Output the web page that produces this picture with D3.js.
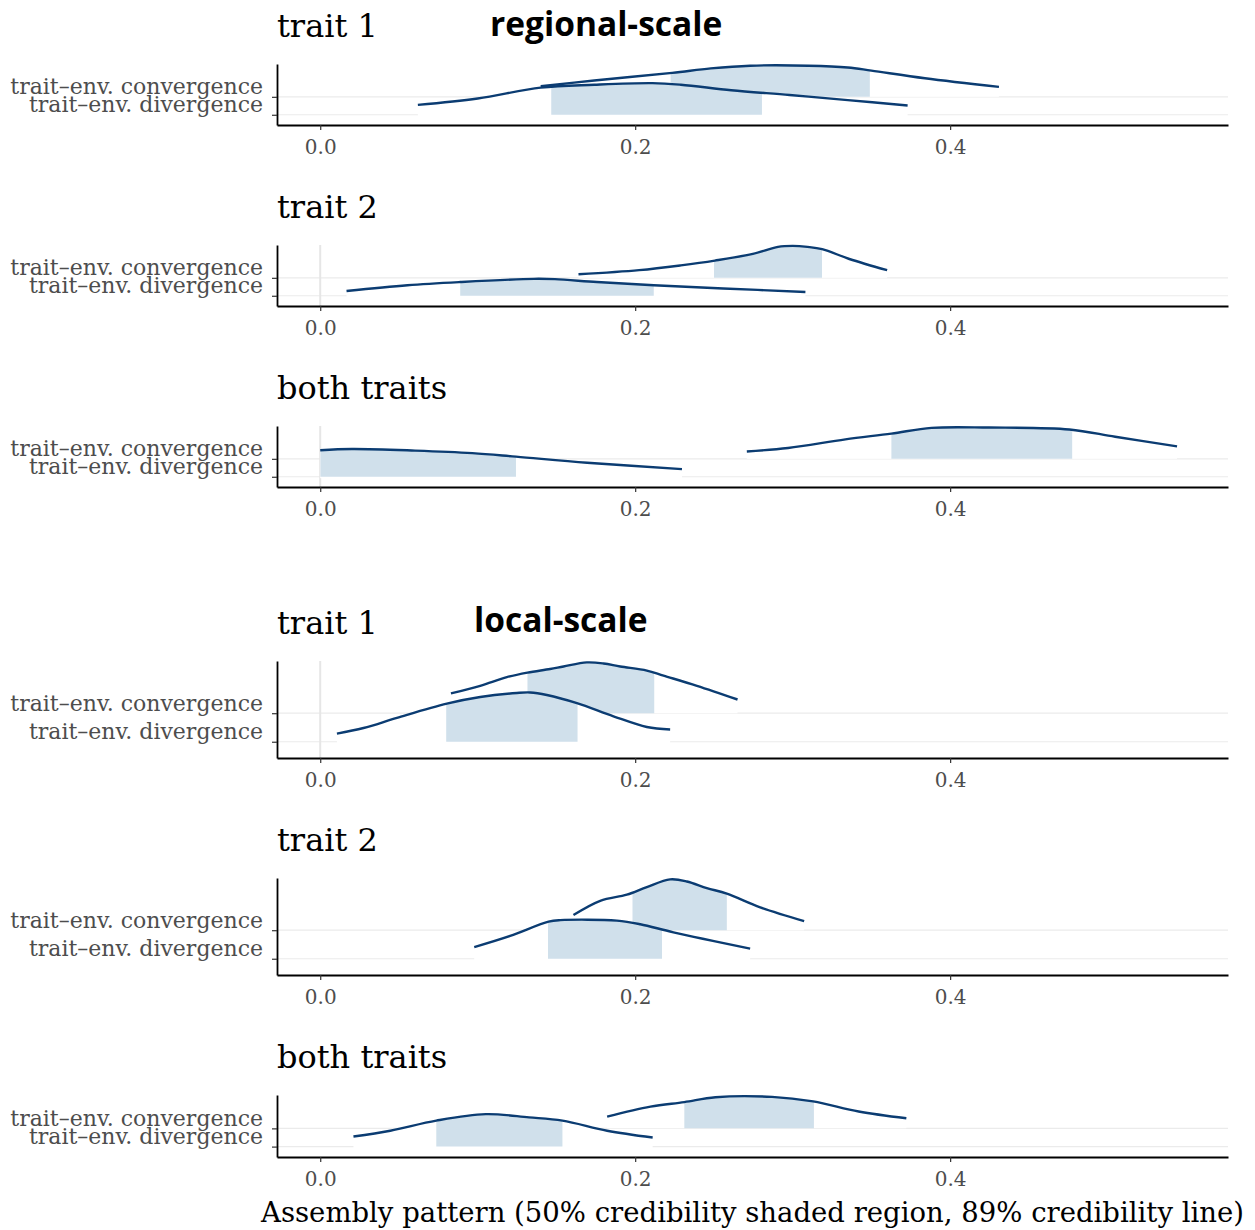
<!DOCTYPE html>
<html>
<head>
<meta charset="utf-8">
<script src="https://cdn.jsdelivr.net/npm/d3@7"></script>
<style>
  body { margin: 0; background: #fff; }
  text { font-family: "DejaVu Serif", serif; }
</style>
</head>
<body>
<div id="chart"></div>
<script>
// Data: [x value, relative density height]
var categories = ["trait\u2013env. convergence", "trait\u2013env. divergence"];
var panelTitles = ["trait 1", "trait 2", "both traits", "trait 1", "trait 2", "both traits"];
var scaleTitles = ["regional-scale", "local-scale"];
var xTicks = [0, 0.2, 0.4];
var xDataRange = [0, 0.549];

// regional-scale
var regT1Conv = [[0.140,0.33],[0.174,0.51],[0.2235,0.75],[0.248,0.89],[0.273,0.975],[0.310,0.975],[0.335,0.92],[0.350,0.82],[0.384,0.58],[0.431,0.31]];
var regT1Div = [[0.062,0.31],[0.100,0.51],[0.140,0.85],[0.174,0.94],[0.211,0.99],[0.229,0.94],[0.261,0.77],[0.298,0.62],[0.335,0.46],[0.373,0.29]];
var regT1Conv50 = [0.2225, 0.349];
var regT1Div50 = [0.1467, 0.2805];

var regT2Conv = [[0.164,0.11],[0.2025,0.24],[0.229,0.39],[0.2506,0.54],[0.2747,0.75],[0.2907,0.97],[0.300,1.0],[0.3094,0.97],[0.3187,0.90],[0.336,0.59],[0.360,0.24]];
var regT2Div = [[0.0167,0.15],[0.0554,0.33],[0.0889,0.43],[0.1357,0.53],[0.149,0.52],[0.1757,0.43],[0.2118,0.33],[0.2559,0.23],[0.3081,0.12]];
var regT2Conv50 = [0.250, 0.3187];
var regT2Div50 = [0.0889, 0.2118];

var regBothConv = [[0.2709,0.23],[0.2971,0.34],[0.3335,0.61],[0.3627,0.79],[0.3882,0.97],[0.4246,0.98],[0.4757,0.92],[0.5048,0.69],[0.5441,0.39]];
var regBothDiv = [[0.0,0.83],[0.0201,0.87],[0.0602,0.82],[0.0966,0.74],[0.1243,0.63],[0.1695,0.44],[0.2297,0.24]];
var regBothConv50 = [0.3627, 0.4775];
var regBothDiv50 = [0.0, 0.1243];

// local-scale
var locT1Conv = [[0.083,0.39],[0.1016,0.54],[0.1185,0.71],[0.1316,0.80],[0.146,0.87],[0.1545,0.92],[0.1693,1.0],[0.1799,0.98],[0.1905,0.92],[0.2074,0.84],[0.218,0.74],[0.2392,0.54],[0.265,0.27]];
var locT1Div = [[0.0106,0.16],[0.0275,0.27],[0.0487,0.47],[0.0804,0.75],[0.1016,0.88],[0.1249,0.96],[0.1333,0.97],[0.1439,0.92],[0.163,0.76],[0.1862,0.50],[0.2074,0.29],[0.2222,0.24]];
var locT1Conv50 = [0.1316, 0.2121];
var locT1Div50 = [0.080, 0.1634];

var locT2Conv = [[0.1608,0.30],[0.1778,0.58],[0.1947,0.70],[0.2074,0.85],[0.2222,1.0],[0.2328,0.96],[0.2455,0.83],[0.2582,0.72],[0.2794,0.45],[0.3073,0.18]];
var locT2Div = [[0.0978,0.23],[0.1206,0.45],[0.145,0.73],[0.1524,0.76],[0.1884,0.75],[0.2032,0.68],[0.2243,0.52],[0.273,0.20]];
var locT2Conv50 = [0.1983, 0.2582];
var locT2Div50 = [0.1446, 0.2170];

var locBothConv = [[0.1822,0.36],[0.2097,0.67],[0.2312,0.81],[0.251,0.96],[0.2869,0.97],[0.313,0.83],[0.3419,0.52],[0.3722,0.31]];
var locBothDiv = [[0.0211,0.31],[0.0445,0.49],[0.0737,0.80],[0.1051,1.0],[0.1326,0.90],[0.1538,0.80],[0.1822,0.49],[0.2111,0.28]];
var locBothConv50 = [0.2312, 0.3135];
var locBothDiv50 = [0.0737, 0.1538];

// tables built from the arrays above
var slabs = [
  [regT1Conv, regT1Div], [regT2Conv, regT2Div], [regBothConv, regBothDiv],
  [locT1Conv, locT1Div], [locT2Conv, locT2Div], [locBothConv, locBothDiv]
];
var intervals = [
  [regT1Conv50, regT1Div50], [regT2Conv50, regT2Div50], [regBothConv50, regBothDiv50],
  [locT1Conv50, locT1Div50], [locT2Conv50, locT2Div50], [locBothConv50, locBothDiv50]
];

// layout
var svgWidth = 1255;
var svgHeight = 1230;
var left = 277, right = 1228;
var panels = [
  {top: 64, bottom: 125},
  {top: 245, bottom: 306},
  {top: 426, bottom: 487},
  {top: 661, bottom: 758},
  {top: 878, bottom: 975},
  {top: 1095, bottom: 1157}
];
var zeroLine = [false, true, true, true, false, false];
var catPos = [2, 1];        // convergence above divergence
var whiteDrop = [0, 1.5];   // lower slab hides its own grid line
var slabScale = 1.78;       // peak height in category units
var lineColor = "#0b3c72";
var fillColor = "#d0e0eb";

var svg = d3.select("#chart")
  .append("svg")
  .attr("width", svgWidth)
  .attr("height", svgHeight);

var pad = (xDataRange[1] - xDataRange[0]) * 0.05;
var xScale = d3.scaleLinear()
  .domain([xDataRange[0] - pad, xDataRange[1] + pad])
  .range([left, right]);

panels.forEach(function(p, i) {
  var g = svg.append("g");

  var yScale = d3.scaleLinear()
    .domain([0.43, 3.83])
    .range([p.bottom, p.top]);

  // grid lines
  g.selectAll(".grid")
    .data(catPos)
    .enter()
    .append("line")
    .attr("x1", left)
    .attr("x2", right)
    .attr("y1", d => yScale(d))
    .attr("y2", d => yScale(d))
    .attr("stroke", "#ebebeb")
    .attr("stroke-width", 1.2);

  if (zeroLine[i]) {
    g.append("line")
      .attr("x1", xScale(0))
      .attr("x2", xScale(0))
      .attr("y1", p.top)
      .attr("y2", p.bottom)
      .attr("stroke", "#e6e6e6")
      .attr("stroke-width", 2);
  }

  // slabs: convergence first, divergence on top
  slabs[i].forEach(function(pts, k) {
    var base = catPos[k];
    var area = d3.area()
      .x(d => xScale(d[0]))
      .y0(yScale(base))
      .y1(d => yScale(base + d[1] * slabScale))
      .curve(d3.curveCatmullRom);
    var whiteArea = d3.area()
      .x(d => xScale(d[0]))
      .y0(yScale(base) + whiteDrop[k])
      .y1(d => yScale(base + d[1] * slabScale))
      .curve(d3.curveCatmullRom);
    var line = d3.line()
      .x(d => xScale(d[0]))
      .y(d => yScale(base + d[1] * slabScale))
      .curve(d3.curveCatmullRom);

    var clipId = "clip-" + i + "-" + k;
    var iv = intervals[i][k];
    g.append("clipPath")
      .attr("id", clipId)
      .append("rect")
      .attr("x", xScale(iv[0]))
      .attr("width", xScale(iv[1]) - xScale(iv[0]))
      .attr("y", p.top - 10)
      .attr("height", p.bottom - p.top + 20);

    g.append("path")
      .datum(pts)
      .attr("d", whiteArea)
      .attr("fill", "#fff");

    g.append("path")
      .datum(pts)
      .attr("d", area)
      .attr("fill", fillColor)
      .attr("clip-path", "url(#" + clipId + ")");

    g.append("path")
      .datum(pts)
      .attr("d", line)
      .attr("fill", "none")
      .attr("stroke", lineColor)
      .attr("stroke-width", 2.4)
      .attr("stroke-linecap", "butt");
  });

  // y axis
  var leftAxis = d3.axisLeft(yScale)
    .tickValues(catPos)
    .tickFormat((d, j) => categories[j])
    .tickSize(5)
    .tickSizeOuter(0)
    .tickPadding(9);
  var yAx = g.append("g")
    .attr("transform", `translate(${left}, 0)`)
    .call(leftAxis);
  yAx.select(".domain").attr("stroke", "#000").attr("stroke-width", 1.8);
  yAx.selectAll(".tick line").attr("stroke", "#333").attr("stroke-width", 1.2);
  yAx.selectAll(".tick text")
    .attr("dy", "-0.14em")
    .style("font-family", "DejaVu Serif")
    .style("font-size", "22px")
    .attr("fill", "#4d4d4d");

  // x axis
  var bottomAxis = d3.axisBottom(xScale)
    .tickValues(xTicks)
    .tickFormat(d3.format(".1f"))
    .tickSize(5)
    .tickSizeOuter(0)
    .tickPadding(10);
  var xAx = g.append("g")
    .attr("transform", `translate(0, ${p.bottom})`)
    .call(bottomAxis);
  xAx.select(".domain").attr("stroke", "#000").attr("stroke-width", 1.9);
  xAx.selectAll(".tick line").attr("stroke", "#333").attr("stroke-width", 1.2);
  xAx.selectAll(".tick text")
    .style("font-family", "DejaVu Serif")
    .style("font-size", "20px")
    .attr("fill", "#4d4d4d");

  // panel title
  g.append("text")
    .attr("x", left)
    .attr("y", p.top - 27)
    .style("font-size", "32px")
    .attr("fill", "#000")
    .text(panelTitles[i]);
});

// section titles
svg.append("text")
  .attr("x", 490)
  .attr("y", 36)
  .style("font-family", "'Open Sans', sans-serif")
  .style("font-weight", "bold")
  .style("font-size", "33.5px")
  .text(scaleTitles[0]);

svg.append("text")
  .attr("x", 474)
  .attr("y", 632)
  .style("font-family", "'Open Sans', sans-serif")
  .style("font-weight", "bold")
  .style("font-size", "33.5px")
  .text(scaleTitles[1]);

// x axis label
svg.append("text")
  .attr("x", (left + right) / 2)
  .attr("y", 1222)
  .attr("text-anchor", "middle")
  .style("font-size", "27.5px")
  .text("Assembly pattern (50% credibility shaded region, 89% credibility line)");
</script>
</body>
</html>
